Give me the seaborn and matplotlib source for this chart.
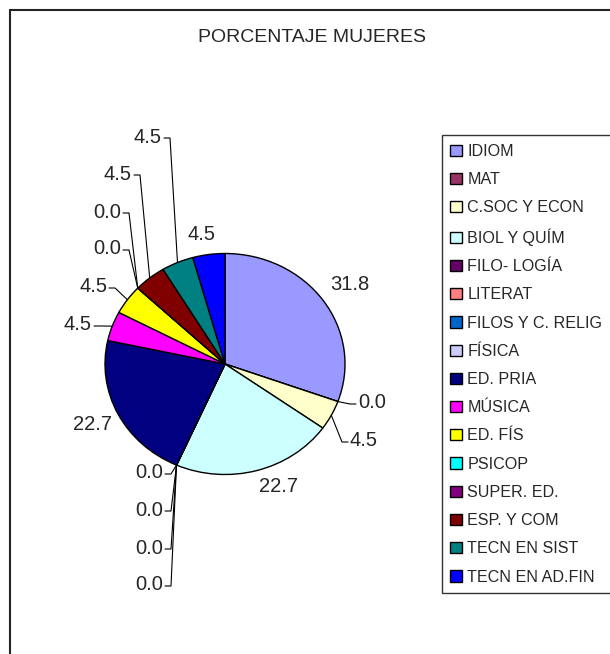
import numpy as np
import matplotlib
matplotlib.use("Agg")
import matplotlib.pyplot as plt
from matplotlib.lines import Line2D
import seaborn as sns

# data
categories = ["IDIOM", "MAT", "C.SOC Y ECON", "BIOL Y QUÍM", "FILO- LOGÍA", "LITERAT",
              "FILOS Y C. RELIG", "FÍSICA", "ED. PRIA", "MÚSICA", "ED. FÍS", "PSICOP",
              "SUPER. ED.", "ESP. Y COM", "TECN EN SIST", "TECN EN AD.FIN"]
percent = [31.8, 0.0, 4.5, 22.7, 0.0, 0.0, 0.0, 0.0, 22.7, 4.5, 4.5, 0.0, 0.0, 4.5, 4.5, 4.5]
colors = ["#9999FF", "#993366", "#FFFFCC", "#CCFFFF", "#660066", "#FF8080", "#0066CC", "#CCCCFF",
          "#000080", "#FF00FF", "#FFFF00", "#00FFFF", "#800080", "#800000", "#008080", "#0000FF"]
title = "PORCENTAJE MUJERES"

# label placement (pixels in the 610x654 image): x, y, alignment, leader line?
label_pos = [(350, 285, "center", False), (358, 403, "left", True), (350, 441, "left", True),
             (279, 487, "center", False), (163, 473, "right", True), (163, 510, "right", True),
             (163, 548, "right", True), (163, 585, "right", True), (93, 425, "center", False),
             (92, 325, "right", True), (107, 287, "right", True), (121, 249, "right", True),
             (121, 212, "right", True), (132, 174, "right", True), (162, 137, "right", True),
             (201, 235, "center", False)]

W, H = 610, 654
CX, CY, RX, RY = 225, 364, 120, 110.5

sns.set_style("white")
plt.rcParams["font.family"] = ["Liberation Sans", "DejaVu Sans"]


def to_data(x, y):
    return (x - CX) / RX, (CY - y) / RY


fig = plt.figure(figsize=(W / 100, H / 100), dpi=100)
ax = fig.add_axes([(CX - RX) / W, (H - CY - RY) / H, 2 * RX / W, 2 * RY / H])

wedges, _ = ax.pie(percent, colors=colors, startangle=90, counterclock=False,
                   wedgeprops=dict(edgecolor="black", linewidth=1.0))
ax.set_aspect("auto")
ax.set_xlim(-1, 1)
ax.set_ylim(-1, 1)
ax.axis("off")

for w, val, (lx, ly, ha, leader) in zip(wedges, percent, label_pos):
    tx, ty = to_data(lx, ly)
    ax.text(tx, ty, f"{val:.1f}", ha=ha, va="center", fontsize=14.5, clip_on=False)
    if leader:
        mid = np.deg2rad((w.theta1 + w.theta2) / 2)
        ax_, ay_ = np.cos(mid), np.sin(mid)
        sgn = 1 if ha == "right" else -1
        x0, _ = to_data(lx + sgn * 2, ly)
        x1, _ = to_data(lx + sgn * 8, ly)
        yl = to_data(lx, ly + 1)[1]
        ax.plot([x0, x1, ax_], [yl, yl, ay_], color="black", lw=0.8, clip_on=False)

fig.text(312 / W, 1 - 38 / H, title, ha="center", va="center", fontsize=14)

leg = fig.legend(wedges, categories, loc="upper left",
                 bbox_to_anchor=(441.5 / W, 1 - 135 / H), bbox_transform=fig.transFigure,
                 fontsize=11.6, frameon=True, fancybox=False, borderpad=0.55,
                 labelspacing=0.82, handlelength=0.7, handleheight=0.7,
                 handletextpad=0.35, borderaxespad=0)
leg.get_frame().set_edgecolor("black")
leg.get_frame().set_linewidth(1.0)

# chart area border (left and top edges visible)
fig.add_artist(Line2D([9.5 / W, 9.5 / W], [0, 1 - 9.5 / H], color="#222222", lw=1.5))
fig.add_artist(Line2D([9.5 / W, 1], [1 - 9.5 / H, 1 - 9.5 / H], color="#222222", lw=1.5))

fig.savefig("out.png", dpi=100)
